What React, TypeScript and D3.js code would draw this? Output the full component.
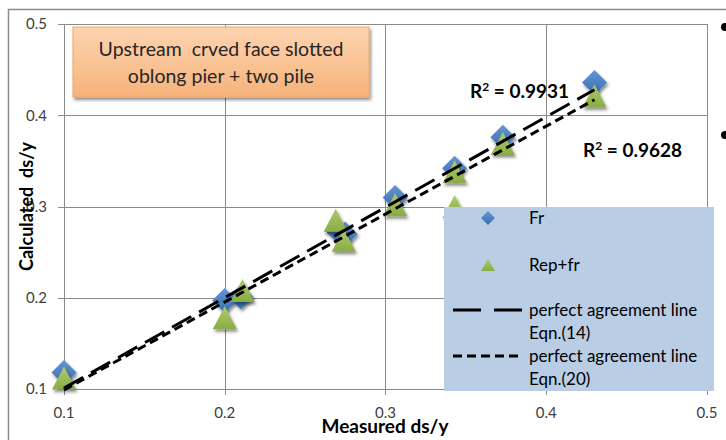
import React from "react";
import * as d3 from "d3";

const W = 726;
const H = 440;

const xTicks = [0.1, 0.2, 0.3, 0.4, 0.5];
const yTicks = [0.1, 0.2, 0.3, 0.4, 0.5];

// Series "Fr" (blue diamonds)
const frMeasured = [0.1, 0.2, 0.21, 0.27, 0.275, 0.306, 0.343, 0.373, 0.43];
const frCalculated = [0.118, 0.197, 0.201, 0.274, 0.27, 0.31, 0.342, 0.376, 0.436];

// Series "Rep+fr" (green triangles)
const repMeasured = [0.1, 0.2, 0.211, 0.269, 0.274, 0.306, 0.343, 0.343, 0.373, 0.43];
const repCalculated = [0.112, 0.178, 0.208, 0.285, 0.263, 0.302, 0.338, 0.3, 0.369, 0.421];

// Trend lines (start/end)
const line14X = [0.1, 0.43];
const line14Y = [0.101, 0.428];
const line20X = [0.1, 0.43];
const line20Y = [0.099, 0.417];

const r2Labels = ["R² = 0.9931", "R² = 0.9628"];
const legendLabels = ["Fr", "Rep+fr", "perfect agreement line", "Eqn.(14)", "perfect agreement line", "Eqn.(20)"];
const boxLines = ["Upstream  crved face slotted", "oblong pier + two pile"];

const FONT = "Lato, 'Open Sans', sans-serif";

export default function App() {
  const x = d3.scaleLinear().domain([0.1, 0.5]).range([64, 707]);
  const y = d3.scaleLinear().domain([0.1, 0.5]).range([389, 24]);
  const lineGen = d3
    .line<[number, number]>()
    .x((d) => x(d[0]))
    .y((d) => y(d[1]));

  const diamond = (cx: number, cy: number, r: number) =>
    `M${cx},${cy - r}L${cx + r},${cy}L${cx},${cy + r}L${cx - r},${cy}Z`;
  const triangle = (cx: number, cy: number, w: number, h: number) =>
    `M${cx},${cy - h / 2}L${cx + w / 2},${cy + h / 2}L${cx - w / 2},${cy + h / 2}Z`;

  const l14 = line14X.map((v, i) => [v, line14Y[i]] as [number, number]);
  const l20 = line20X.map((v, i) => [v, line20Y[i]] as [number, number]);

  const legFS = 17;

  return (
    <svg
      width={W}
      height={H}
      style={{ position: "absolute", left: 0, top: 0, background: "#fff" }}
      fontFamily={FONT}
    >
      <defs>
        <linearGradient id="gBlue" x1="0" y1="0" x2="0" y2="1">
          <stop offset="0" stopColor="#6396D4" />
          <stop offset="1" stopColor="#3A6DB0" />
        </linearGradient>
        <linearGradient id="gGreen" x1="0" y1="0" x2="0" y2="1">
          <stop offset="0" stopColor="#AECB6C" />
          <stop offset="1" stopColor="#88AC45" />
        </linearGradient>
        <linearGradient id="gBox" x1="0" y1="0" x2="0" y2="1">
          <stop offset="0" stopColor="#FCD3B0" />
          <stop offset="0.5" stopColor="#FAC496" />
          <stop offset="1" stopColor="#F7B27A" />
        </linearGradient>
        <filter id="shadow" x="-50%" y="-50%" width="200%" height="200%">
          <feDropShadow dx="1.5" dy="2.5" stdDeviation="1.8" floodColor="#000" floodOpacity="0.45" />
        </filter>
      </defs>

      {/* chart outer border */}
      <rect x={8.5} y={9.5} width={760} height={460} fill="#fff" stroke="#8C8C8C" strokeWidth={1.5} />

      {/* grid */}
      {yTicks.map((t) => (
        <line key={"gy" + t} x1={x(0.1)} x2={x(0.5)} y1={Math.round(y(t)) + 0.5} y2={Math.round(y(t)) + 0.5} stroke="#8A8A8A" strokeWidth={1} />
      ))}
      {xTicks.map((t) => (
        <line key={"gx" + t} x1={Math.round(x(t)) + 0.5} x2={Math.round(x(t)) + 0.5} y1={y(0.5)} y2={y(0.1)} stroke="#8A8A8A" strokeWidth={1} />
      ))}
      {/* tick marks */}
      {yTicks.map((t) => (
        <line key={"ty" + t} x1={x(0.1) - 6} x2={x(0.1)} y1={Math.round(y(t)) + 0.5} y2={Math.round(y(t)) + 0.5} stroke="#8A8A8A" />
      ))}
      {xTicks.map((t) => (
        <line key={"tx" + t} x1={Math.round(x(t)) + 0.5} x2={Math.round(x(t)) + 0.5} y1={y(0.1)} y2={y(0.1) + 6} stroke="#8A8A8A" />
      ))}

      {/* tick labels */}
      {yTicks.map((t) => (
        <text key={"ly" + t} x={47} y={y(t)} dy="0.35em" textAnchor="end" fontSize={15} fill="#404040">
          {t.toFixed(1)}
        </text>
      ))}
      {xTicks.map((t) => (
        <text key={"lx" + t} x={x(t)} y={413} dy="0.35em" textAnchor="middle" fontSize={15} fill="#404040">
          {t.toFixed(1)}
        </text>
      ))}

      {/* axis titles */}
      <text
        transform={`translate(27,${(y(0.1) + y(0.5)) / 2}) rotate(-90)`}
        textAnchor="middle"
        dy="0.35em"
        fontSize={18}
        fontWeight="bold"
        fill="#000"
        style={{ whiteSpace: "pre" }}
      >
        {"Calculated  ds/y"}
      </text>
      <text x={385} y={426} dy="0.35em" textAnchor="middle" fontSize={19} fontWeight="bold" fill="#000">
        Measured ds/y
      </text>

      {/* markers */}
      <g filter="url(#shadow)">
        {frMeasured.map((m, i) => (
          <path key={"fr" + i} d={diamond(x(m), y(frCalculated[i]), 12.5)} fill="url(#gBlue)" />
        ))}
      </g>
      <g filter="url(#shadow)">
        {repMeasured.map((m, i) => (
          <path key={"rp" + i} d={triangle(x(m), y(repCalculated[i]), 24, 23)} fill="url(#gGreen)" />
        ))}
      </g>

      {/* trend lines */}
      <path d={lineGen(l14) || ""} fill="none" stroke="#000" strokeWidth={3} strokeDasharray="22,9" />
      <path d={lineGen(l20) || ""} fill="none" stroke="#000" strokeWidth={3} strokeDasharray="9,5" />

      {/* R2 labels */}
      <text x={470} y={91} dy="0.35em" fontSize={19} fontWeight="bold" fill="#000">
        R<tspan dy="-7" fontSize={12}>2</tspan>
        <tspan dy="7">{r2Labels[0].slice(2)}</tspan>
      </text>
      <text x={583} y={150} dy="0.35em" fontSize={19} fontWeight="bold" fill="#000">
        R<tspan dy="-7" fontSize={12}>2</tspan>
        <tspan dy="7">{r2Labels[1].slice(2)}</tspan>
      </text>

      {/* annotation box */}
      <g filter="url(#shadow)">
        <rect x={73} y={27} width={296} height={70} fill="url(#gBox)" stroke="#F0A868" strokeWidth={1} />
      </g>
      <text x={221} y={49} dy="0.35em" textAnchor="middle" fontSize={19.5} fill="#262626" style={{ whiteSpace: "pre" }}>
        {boxLines[0]}
      </text>
      <text x={221} y={76} dy="0.35em" textAnchor="middle" fontSize={19.5} fill="#262626">
        {boxLines[1]}
      </text>

      {/* legend */}
      <rect x={444} y={207} width={270} height={184} fill="#B9CDE5" />
      <path d={diamond(488, 218, 7)} fill="url(#gBlue)" />
      <text x={529} y={218} dy="0.35em" fontSize={legFS} fill="#000">{legendLabels[0]}</text>
      <path d={triangle(488, 265, 14, 12)} fill="url(#gGreen)" />
      <text x={529} y={265} dy="0.35em" fontSize={legFS} fill="#000">{legendLabels[1]}</text>
      <line x1={453} x2={522} y1={310} y2={310} stroke="#000" strokeWidth={3} strokeDasharray="28,13" />
      <text x={529} y={310} dy="0.35em" fontSize={legFS} fill="#000">{legendLabels[2]}</text>
      <text x={529} y={333} dy="0.35em" fontSize={legFS} fill="#000">{legendLabels[3]}</text>
      <line x1={453} x2={522} y1={356} y2={356} stroke="#000" strokeWidth={3} strokeDasharray="9,5" />
      <text x={529} y={356} dy="0.35em" fontSize={legFS} fill="#000">{legendLabels[4]}</text>
      <text x={529} y={379} dy="0.35em" fontSize={legFS} fill="#000">{legendLabels[5]}</text>

      {/* bullets at right edge */}
      <circle cx={725} cy={27} r={4} fill="#000" />
      <circle cx={725} cy={135} r={4} fill="#000" />
    </svg>
  );
}
